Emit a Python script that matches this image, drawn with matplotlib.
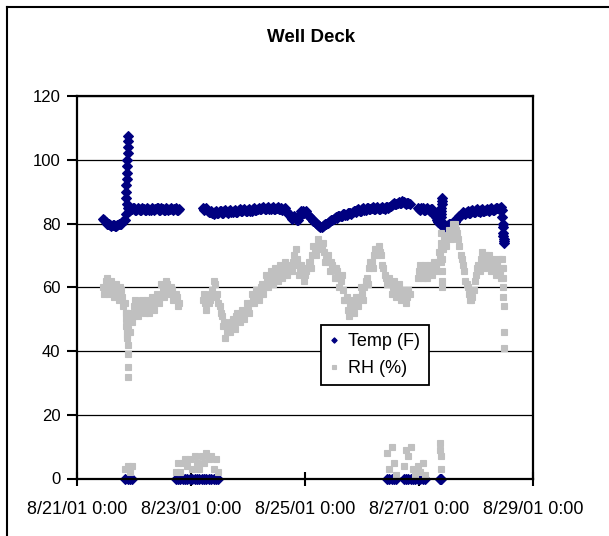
import numpy as np
import pandas as pd
import matplotlib.pyplot as plt
from matplotlib.lines import Line2D
from datetime import datetime

plt.rcParams['font.family'] = ['Liberation Sans', 'DejaVu Sans']

nan = np.nan

# readings on the hour, 8/21/01 11:00 .. 8/28/01 11:00
hours = pd.date_range('2001-08-21 11:00', '2001-08-28 11:00', freq='h')
# readings on the half hour, 8/21/01 11:30 .. 8/28/01 10:30
half_hours = pd.date_range('2001-08-21 11:30', '2001-08-28 10:30', freq='h')

temp = [
    81.5, 80.5, 80.0, 79.5, 79.5, 79.3, 79.5, 79.8, 80.5, 81.0,
    86.0, 84.0, 84.5, 84.8, 84.3, 84.6, 84.2, 84.7, 84.3, 84.6,
    84.2, 84.7, 84.4, 84.8, 84.3, 84.6, 84.2, 84.7, 84.4, 84.5,
    84.7, 84.3, 84.6, nan, nan, nan, nan, nan, nan, nan,
    nan, nan, 84.8, 84.5, 84.0, 83.5, 83.2, 83.6, 83.3, 83.8,
    83.4, 83.8, 83.5, 83.9, 83.6, 84.0, 83.7, 84.1, 83.8, 84.2,
    83.9, 84.2, 84.0, 84.5, 84.2, 84.6, 84.4, 84.8, 84.5, 84.9,
    84.6, 85.0, 84.7, 84.9, 84.6, 84.8, 84.5, 84.0, 83.0, 82.0,
    81.8, 81.5, 81.0, 83.0, 83.8, 83.5, 83.0, 82.0, 81.5, 80.5,
    79.8, 79.2, 79.0, 79.5, 80.0, 80.4, 81.0, 81.5, 82.0, 82.3,
    82.5, 82.9, 82.8, 83.3, 83.2, 83.7, 83.8, 84.2, 84.0, 84.5,
    84.3, 84.8, 84.5, 84.9, 84.6, 85.0, 84.7, 85.0, 84.8, 85.1,
    85.0, 85.5, 86.0, 86.2, 86.3, 86.5, 87.0, 86.5, 86.3, 86.0,
    nan, nan, nan, 84.5, 84.8, 84.3, 84.7, 84.3, 84.5, 83.5,
    82.0, 80.5, 80.0, 79.5, 79.3, 79.5, 80.0, 80.0, 80.5, 81.5,
    82.5, 83.0, 83.2, 83.6, 83.4, 83.9, 83.7, 84.1, 83.8, 84.2,
    84.0, 84.3, 84.1, 84.5, 84.3, 84.6, 84.8, 85.0, 84.2,
]

temp_half = [
    81.0, 80.0, 79.8, 79.2, 79.6, 79.2, 79.7, 80.0, 80.8, 83.0,
    84.8, 84.2, 84.9, 84.2, 84.8, 84.3, 84.9, 84.2, 84.8, 84.3,
    84.9, 84.2, 84.8, 84.3, 84.9, 84.2, 84.8, 84.3, 84.9, 84.2,
    84.8, 84.3, nan, nan, nan, nan, nan, nan, nan, nan,
    nan, nan, 84.3, 84.8, 83.6, 83.8, 83.0, 83.9, 83.2, 84.0,
    83.3, 84.1, 83.4, 84.2, 83.5, 84.3, 83.7, 84.4, 83.8, 84.5,
    83.9, 84.6, 84.0, 84.8, 84.2, 85.0, 84.4, 85.1, 84.6, 85.2,
    84.6, 85.2, 84.5, 85.1, 84.6, 84.2, 84.8, 83.5, 82.6, 81.5,
    82.2, 81.0, 82.0, 84.0, 83.2, 83.8, 82.5, 81.8, 80.9, 80.2,
    79.4, 78.8, 79.3, 79.8, 80.3, 80.8, 81.2, 81.8, 81.7, 82.4,
    82.3, 83.0, 82.6, 83.4, 83.0, 83.9, 83.5, 84.4, 84.0, 84.8,
    84.3, 85.0, 84.4, 85.1, 84.5, 85.2, 84.6, 85.2, 84.6, 85.3,
    85.3, 85.7, 86.3, 86.0, 86.6, 86.3, 86.8, 86.2, 86.4, nan,
    nan, nan, 84.9, 84.2, 84.9, 84.1, 84.8, 84.0, 84.6, 82.8,
    81.2, 80.8, 79.6, 80.0, 79.0, 79.8, 79.4, 80.4, 81.0, 82.0,
    82.8, 83.5, 83.0, 83.9, 83.3, 84.2, 83.5, 84.4, 83.7, 84.5,
    83.8, 84.6, 84.0, 84.8, 84.1, 85.0, 84.5, 85.2,
]

rh = [
    60, 62, 60, 61, 59, 60, 58, 60, 57, 55,
    50, 52, 49, 54, 53, 55, 53, 55, 53, 55,
    54, 56, 55, 57, 57, 59, 59, 61, 59, 59,
    57, 57, 55, nan, nan, nan, nan, nan, nan, nan,
    nan, nan, 56, 55, 57, 56, 59, 61, 58, 54,
    51, 49, 46, 47, 49, 48, 51, 50, 52, 51,
    53, 53, 55, 57, 57, 58, 58, 61, 60, 62,
    61, 63, 62, 64, 63, 65, 64, 66, 65, 66,
    68, 72, 67, 65, 66, 64, 66, 68, 70, 72,
    73, 74, 73, 71, 69, 68, 68, 66, 66, 63,
    62, 59, 56, 53, 54, 53, 55, 55, 57, 58,
    60, 63, 66, 68, 70, 72, 73, 70, 66, 63,
    61, 61, 60, 60, 59, 59, 57, 58, 57, 58,
    nan, nan, nan, 65, 64, 66, 65, 66, 65, 67,
    66, 68, 70, 72, 74, 76, 76, 78, 80, 77,
    73, 69, 65, 61, 58, 56, 59, 64, 67, 69,
    68, 70, 68, 67, 69, 66, 67, 65, 66,
]

rh_half = [
    58, 63, 58, 62, 57, 61, 56, 59, 54, 52,
    47, 46, 51, 56, 51, 53, 56, 52, 56, 52,
    57, 53, 58, 55, 61, 57, 62, 58, 60, 56,
    58, 54, nan, nan, nan, nan, nan, nan, nan, nan,
    nan, nan, 58, 53, 55, 58, 62, 57, 55, 52,
    48, 44, 48, 46, 50, 47, 52, 49, 53, 50,
    55, 52, 58, 55, 59, 56, 60, 58, 64, 60,
    65, 61, 66, 62, 67, 63, 68, 64, 67, 65,
    70, 69, 64, 67, 62, 65, 68, 66, 73, 70,
    75, 72, 74, 68, 70, 65, 67, 63, 65, 60,
    64, 56, 57, 51, 56, 52, 57, 54, 60, 56,
    62, 61, 68, 66, 72, 70, 71, 67, 64, 61,
    63, 58, 62, 57, 61, 56, 59, 55, 59, nan,
    nan, nan, 63, 67, 63, 67, 63, 67, 64, 68,
    65, 71, 69, 75, 73, 78, 75, 80, 78, 75,
    70, 67, 62, 60, 56, 57, 62, 66, 65, 71,
    66, 69, 70, 65, 68, 64, 69, 63,
]

# extra readings logged in short bursts (hours after 8/21/01 0:00)
burst_hours = [20.6, 20.7, 20.8, 20.9, 21.0, 21.1, 21.2, 21.3, 21.4, 21.5, 21.6,
               153.1, 153.2, 153.3, 153.4, 153.5, 153.6, 153.7,
               179.1, 179.2, 179.3, 179.4, 179.5, 179.6, 179.7, 179.8]
burst_temp = [88, 90, 92, 94, 96, 98, 100, 102, 104, 106, 107.5,
              82, 83, 84, 85, 86, 87, 88,
              82, 80, 79, 77, 76, 75, 74.5, 74]
burst_rh = [52, 50, 48, 46, 47, 45, 44, 42, 39, 35, 32,
            77, 74, 72, 68, 65, 62, 60,
            69, 66, 63, 60, 57, 54, 46, 41]

# sensor dropouts (temperature read as 0)
drop_hours = [20.3, 21.3, 22.3, 23.3,
              41.5, 42.5, 43.5, 44.5, 45.5, 46.5, 47.5, 48.5, 49.5, 50.5,
              51.5, 52.5, 53.5, 54.5, 55.5, 56.5, 57.5, 58.5, 59.5,
              130.5, 131.5, 132.5, 133.5, 134.5,
              137.5, 138.5, 139.5, 140.5, 141.5, 142.5, 143.5, 144.5, 145.5, 146.5,
              152.8, 153.0, 153.2, 153.4]
drop_temp = [0] * len(drop_hours)
drop_rh = [3, 4, 2, 4,
           2, 5, 2, 5, 6, 4, 6, 3, 7, 5,
           3, 7, 5, 8, 6, 7, 3, 6, 2,
           8, 3, 10, 5, 1,
           4, 9, 7, 10, 3, 1, 4, 2, 5, 1,
           11, 9, 7, 3]

tick_dates = [datetime(2001, 8, d) for d in (21, 23, 25, 27, 29)]
tick_labels = ['8/21/01 0:00', '8/23/01 0:00', '8/25/01 0:00',
               '8/27/01 0:00', '8/29/01 0:00']

start = pd.Timestamp('2001-08-21')
t_burst = start + pd.to_timedelta(burst_hours, unit='h')
t_drop = start + pd.to_timedelta(drop_hours, unit='h')

t_all = list(hours) + list(half_hours) + list(t_burst) + list(t_drop)
temp_all = list(temp) + list(temp_half) + burst_temp + drop_temp
rh_all = list(rh) + list(rh_half) + burst_rh + drop_rh

navy = '#000080'
grey = '#C0C0C0'

fig = plt.figure(figsize=(6.09, 5.36), dpi=100)
ax = fig.add_axes([77 / 609, 1 - 478.5 / 536, 456 / 609, 382.5 / 536])

ax.plot(t_all, temp_all, linestyle='none', marker='D', markersize=5,
        color=navy, markeredgewidth=0.8, clip_on=False, label='Temp (F)')
ax.plot(t_all, rh_all, linestyle='none', marker='s', markersize=5,
        color=grey, markeredgewidth=0.8, clip_on=False, label='RH (%)')

ax.set_ylim(0, 120)
ax.set_yticks(range(0, 121, 20))
ax.set_xlim(datetime(2001, 8, 21), datetime(2001, 8, 29))
ax.set_xticks(tick_dates)
ax.set_xticklabels(tick_labels)
ax.yaxis.grid(True, color='black', linewidth=0.9)
ax.set_axisbelow(True)

for s in ax.spines.values():
    s.set_linewidth(1.6)
ax.tick_params(axis='y', direction='out', length=7, width=1.5, labelsize=12, pad=5)
ax.tick_params(axis='x', direction='inout', length=10, width=1.5, labelsize=13, pad=11)

leg = ax.legend(loc='upper left', bbox_to_anchor=(0.534, 0.401), borderaxespad=0,
                fontsize=13, frameon=True, fancybox=False, framealpha=1,
                edgecolor='black', handlelength=0.6, handletextpad=0.5,
                labelspacing=0.55, borderpad=0.45, markerscale=0.55)
leg.get_frame().set_linewidth(1.3)

fig.text(0.51, 1 - 37 / 536, 'Well Deck', ha='center', va='center',
         fontsize=13.5, fontweight='bold')

# chart-area border (left and top edges fall inside the image)
fig.add_artist(Line2D([7 / 609, 7 / 609], [0, 1 - 7 / 536], transform=fig.transFigure,
                      color='black', linewidth=1.5))
fig.add_artist(Line2D([7 / 609, 1], [1 - 7 / 536, 1 - 7 / 536], transform=fig.transFigure,
                      color='black', linewidth=1.5))

fig.savefig('out.png', dpi=100)
plt.close(fig)
